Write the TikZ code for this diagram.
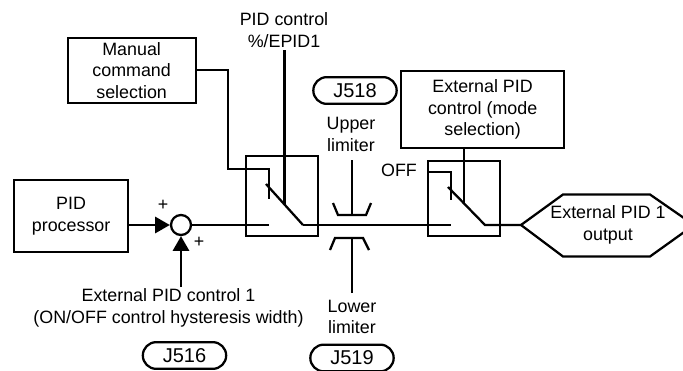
\documentclass[tikz,border=0pt]{standalone}
\usepackage{fontspec}
\setmainfont{Liberation Sans}
\usetikzlibrary{arrows.meta}
\tikzset{
  ln/.style={line width=1.7pt,line cap=butt},
  boxn/.style={draw,line width=1.7pt,inner sep=0pt,anchor=north west,align=center,font=\fontsize{13.4}{16}\selectfont},
  lbl/.style={inner sep=0pt,align=center,font=\fontsize{13.4}{16}\selectfont},
  pill/.style={draw,line width=1.7pt,rounded corners=10pt,inner sep=0pt,minimum width=62.5pt,minimum height=20pt,font=\fontsize{15}{17}\selectfont},
  arr/.style={line width=2pt,-{Triangle[length=11pt,width=12pt]}},
}
\begin{document}
\begin{tikzpicture}[x=0.75pt,y=-0.75pt]
\useasboundingbox (0,0) rectangle (683,371);
\clip (0,0) rectangle (683,371);
\node[boxn,minimum width=96pt,minimum height=49pt] (man) at (66.5,36.5) {Manual\\command\\selection};
\node[boxn,minimum width=85.5pt,minimum height=54pt] (pid) at (13,179) {PID\\processor};
\node[boxn,minimum width=122.25pt,minimum height=57.75pt] (ext) at (400,70) {External PID\\control (mode\\selection)};
\node[draw,line width=1.7pt,anchor=north west,minimum width=54pt,minimum height=60pt,inner sep=0pt] (sw1) at (245,155) {};
\node[draw,line width=1.7pt,anchor=north west,minimum width=54pt,minimum height=56.25pt,inner sep=0pt] (sw2) at (427,160) {};
\node[draw,circle,line width=1.7pt,minimum size=15pt,inner sep=0pt] (sum) at (181,225) {};
\node[lbl] (plus1) at (163,205) {+};
\node[lbl] (plus2) at (199,242) {+};
\node[pill] (j518) at (355,90.5) {J518};
\node[pill] (j516) at (184.5,355.5) {J516};
\node[pill] (j519) at (352,358) {J519};
\node[lbl] (t1) at (284,30) {PID control\\\%/EPID1};
\node[lbl] (t2) at (351,134.5) {Upper\\limiter};
\node[lbl] (t3) at (352,317) {Lower\\limiter};
\node[lbl] (t4) at (168.5,308) {External PID control 1\\(ON/OFF control hysteresis width)};
\node[lbl] (t5) at (399,170) {OFF};
\coordinate (h1) at (521,225);
\coordinate (h2) at (563,194.5);
\coordinate (h3) at (650,194.5);
\coordinate (h4) at (694,225);
\coordinate (h5) at (650,256.5);
\coordinate (h6) at (563,256.5);
\draw[ln,line join=miter] (h1)--(h2)--(h3)--(h4)--(h5)--(h6)--cycle;
\node[lbl] (hex) at (608,225) {External PID 1\\output};
% arrows
\draw[arr] (pid.east |- sum) -- (sum.west);
\coordinate (in2) at (181,287);
\draw[arr] (in2) -- (sum.south);
% switch 1
\coordinate (a1) at (269,225);
\coordinate (a2) at (269,199);
\coordinate (a3) at (269,169);
\coordinate (a4) at (228,169);
\coordinate (a5) at (228,70);
\coordinate (b1) at (266,184);
\coordinate (b2) at (303,225);
\coordinate (c1) at (284.5,50);
\coordinate (c2) at (284.5,204);
\draw[ln] (sum.east) -- (a1);
\draw[ln] (man.east |- a5) -- (a5) -- (a4) -- (a3) -- (a2);
\draw[ln] (b1) -- (b2);
\draw[ln] (c1) -- (c2);
% switch 2
\coordinate (d1) at (451,225);
\coordinate (d2) at (451,200);
\coordinate (d3) at (451,172);
\coordinate (d4) at (427,172);
\coordinate (e1) at (448,187);
\coordinate (e2) at (485,225);
\draw[ln] (b2) -- (d1);
\draw[ln] (d4) -- (d3) -- (d2);
\draw[ln] (e1) -- (e2) -- (h1);
\coordinate (f2) at (464,203);
\draw[ln] (ext.south -| f2) -- (f2);
% limiters
\coordinate (u0) at (352,160);
\coordinate (u1) at (352,215);
\coordinate (u2) at (338,215);
\coordinate (u3) at (366,215);
\coordinate (u4) at (333,203);
\coordinate (u5) at (371,203);
\draw[ln] (u0)--(u1);
\draw[ln] (u4)--(u2)--(u3)--(u5);
\coordinate (l0) at (352,293);
\coordinate (l1) at (352,238);
\coordinate (l2) at (335,238);
\coordinate (l3) at (363,238);
\coordinate (l4) at (330,250);
\coordinate (l5) at (369,250);
\draw[ln] (l0)--(l1);
\draw[ln] (l4)--(l2)--(l3)--(l5);
\end{tikzpicture}
\end{document}
